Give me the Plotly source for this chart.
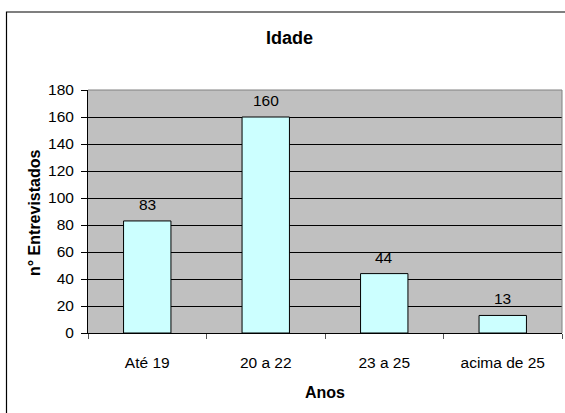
import plotly.graph_objects as go

categories = ["Até 19", "20 a 22", "23 a 25", "acima de 25"]
values = [83, 160, 44, 13]
y_ticks = [0, 20, 40, 60, 80, 100, 120, 140, 160, 180]

title_text = "Idade"
x_title = "Anos"
y_title = "n° Entrevistados"

W, H = 565, 413
L, T = 88, 90
pw, ph = 474, 243
R, B = W - L - pw, H - T - ph


def px(x):
    """screen x pixel -> paper coordinate"""
    return (x - L) / pw


def py(y):
    """screen y pixel -> paper coordinate"""
    return (T + ph - y) / ph


FONT = "Liberation Sans, Arial, sans-serif"

fig = go.Figure(
    go.Bar(
        x=categories,
        y=values,
        width=0.4,
        marker=dict(color="#CCFFFF", line=dict(color="#000000", width=1)),
        cliponaxis=False,
        hoverinfo="x+y",
    )
)

for c, v in zip(categories, values):
    fig.add_annotation(
        x=c, y=v, xref="x", yref="y",
        text=str(v),
        showarrow=False,
        xanchor="center", yanchor="bottom",
        yshift=6,
        font=dict(size=15.5, family=FONT, color="#000000"),
    )

fig.update_layout(
    width=W,
    height=H,
    margin=dict(l=L, r=R, t=T, b=B, pad=0),
    paper_bgcolor="#FFFFFF",
    plot_bgcolor="#C0C0C0",
    showlegend=False,
    font=dict(family=FONT, size=15.5, color="#000000"),
)

fig.update_xaxes(
    type="category",
    showgrid=False,
    showline=True,
    linecolor="#000000",
    linewidth=1,
    ticks="outside",
    tickson="boundaries",
    ticklen=5,
    tickcolor="#555555",
    tickwidth=1,
    ticklabelstandoff=15,
    tickfont=dict(size=15.5, family=FONT, color="#000000"),
    zeroline=False,
)

fig.update_yaxes(
    range=[0, 180],
    tickvals=y_ticks,
    ticktext=[str(v) for v in y_ticks],
    showgrid=True,
    gridcolor="#000000",
    gridwidth=1,
    showline=True,
    linecolor="#000000",
    linewidth=1,
    ticks="outside",
    ticklen=6,
    tickcolor="#000000",
    tickwidth=1,
    ticklabelstandoff=4,
    tickfont=dict(size=15.5, family=FONT, color="#000000"),
    zeroline=False,
)

# plot-area border (top and right, gray)
fig.add_shape(
    type="path",
    xref="paper",
    yref="paper",
    path="M 0,1 L 1,1 L 1,0",
    line=dict(color="#808080", width=1),
    layer="above",
)

# outer chart-area border
fig.add_shape(
    type="rect",
    xref="paper",
    yref="paper",
    x0=px(6.5),
    x1=px(575),
    y0=py(425),
    y1=py(12),
    line=dict(color="#000000", width=1.2),
    layer="above",
)

fig.add_annotation(
    text=f"<b>{title_text}</b>",
    xref="paper", yref="paper",
    x=px(289), y=py(38),
    xanchor="center", yanchor="middle",
    showarrow=False,
    font=dict(size=18, family=FONT, color="#000000"),
)

fig.add_annotation(
    text=f"<b>{x_title}</b>",
    xref="paper", yref="paper",
    x=0.5, y=py(392),
    xanchor="center", yanchor="middle",
    showarrow=False,
    font=dict(size=16, family=FONT, color="#000000"),
)

fig.add_annotation(
    text=f"<b>{y_title}</b>",
    xref="paper", yref="paper",
    x=px(34), y=py(213),
    xanchor="center", yanchor="middle",
    textangle=-90,
    showarrow=False,
    font=dict(size=16, family=FONT, color="#000000"),
)

fig.write_html(
    "out.html",
    config={"displayModeBar": False},
    post_script=(
        "document.documentElement.style.margin='0';"
        "document.body.style.margin='0';"
        "document.body.style.overflow='hidden';"
    ),
)
